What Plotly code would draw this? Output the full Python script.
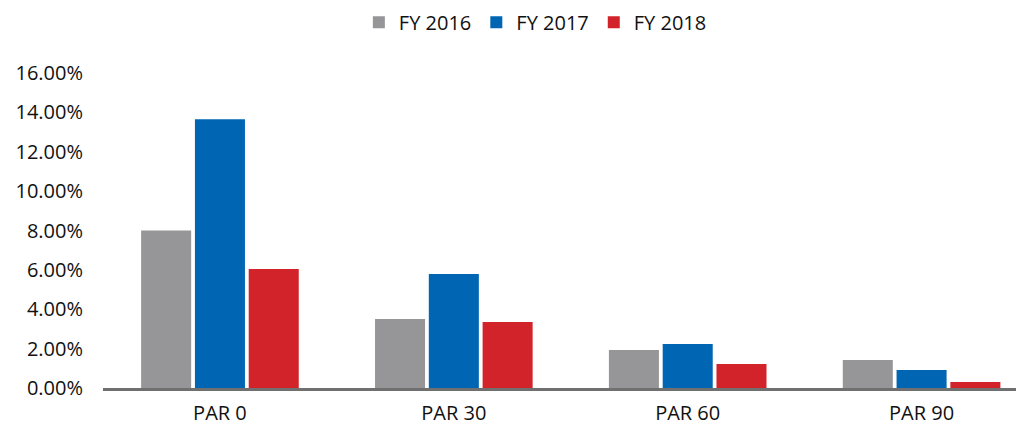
import plotly.graph_objects as go

categories = ["PAR 0", "PAR 30", "PAR 60", "PAR 90"]
fy2016 = [8.0, 3.5, 1.93, 1.42]
fy2017 = [13.65, 5.79, 2.23, 0.91]
fy2018 = [6.04, 3.35, 1.22, 0.30]
series_names = ["FY 2016", "FY 2017", "FY 2018"]
colors = ["#969698", "#0066B3", "#D2232A"]
y_ticks = [0, 2, 4, 6, 8, 10, 12, 14, 16]
y_tick_labels = ["0.00%", "2.00%", "4.00%", "6.00%", "8.00%", "10.00%", "12.00%", "14.00%", "16.00%"]

font_family = "Open Sans"

fig = go.Figure()
for name, vals, col in zip(series_names, [fy2016, fy2017, fy2018], colors):
    fig.add_trace(go.Bar(x=categories, y=vals, name=name, marker=dict(color=col, line=dict(width=0))))

fig.update_layout(
    width=1024, height=429,
    paper_bgcolor="white", plot_bgcolor="white",
    margin=dict(l=95, r=4, t=65, b=49, autoexpand=False),
    barmode="group", bargap=0.31, bargroupgap=0.07,
    font=dict(family=font_family, size=20, color="#111111"),
    legend=dict(orientation="h", x=0.515, xref="container", xanchor="center", y=0.967, yref="container",
                yanchor="middle", font=dict(size=20), itemwidth=30, traceorder="normal"),
    showlegend=True,
)
fig.update_xaxes(range=[-0.5, 3.455], showgrid=False, showline=True, linecolor="#707070", linewidth=3,
                 ticks="", tickfont=dict(size=20), zeroline=False, ticklabelstandoff=5, automargin=False)
fig.update_yaxes(range=[0, 16], tickvals=y_ticks, ticktext=y_tick_labels, showgrid=False,
                 showline=False, zeroline=False, ticks="", tickfont=dict(size=20), ticklabelstandoff=19,
                 automargin=False)

fig.write_html("out.html")
